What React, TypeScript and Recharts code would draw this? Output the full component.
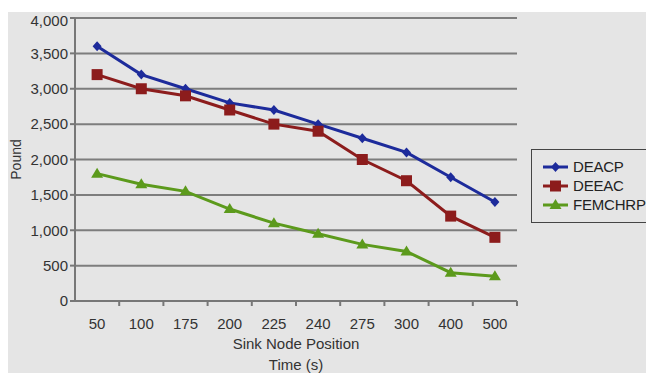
import React from "react";
import {
  CartesianGrid,
  Line,
  LineChart,
  XAxis,
  YAxis,
} from "recharts";

const positions = ["50", "100", "175", "200", "225", "240", "275", "300", "400", "500"];
const deacp = [3600, 3200, 3000, 2800, 2700, 2500, 2300, 2100, 1750, 1400];
const deeac = [3200, 3000, 2900, 2700, 2500, 2400, 2000, 1700, 1200, 900];
const femchrp = [1800, 1650, 1550, 1300, 1100, 950, 800, 700, 400, 350];
const yTicks = [0, 500, 1000, 1500, 2000, 2500, 3000, 3500, 4000];

const data = positions.map((p, i) => ({
  pos: p,
  DEACP: deacp[i],
  DEEAC: deeac[i],
  FEMCHRP: femchrp[i],
}));

const W = 646;
const H = 361;
const margin = { top: 6, right: 137, bottom: 0, left: 0 };
const yAxisW = 67;
const plotW = W - margin.left - margin.right - yAxisW;
const half = plotW / positions.length / 2;

const BLUE = "#1d2b9b";
const RED = "#8c1c1c";
const GREEN = "#5c9a1c";

function Marker(props: { shape: string; cx: number; cy: number; color: string }) {
  const { shape, cx, cy, color } = props;
  if (shape === "diamond") {
    return (
      <polygon
        points={`${cx},${cy - 5} ${cx + 4.5},${cy} ${cx},${cy + 5} ${cx - 4.5},${cy}`}
        fill={color}
      />
    );
  }
  if (shape === "square") {
    return <rect x={cx - 5.5} y={cy - 5.5} width={11} height={11} fill={color} />;
  }
  return (
    <polygon
      points={`${cx},${cy - 6} ${cx + 6},${cy + 4} ${cx - 6},${cy + 4}`}
      fill={color}
    />
  );
}

const dotFor = (shape: string, color: string) => (p: any) =>
  p.cx == null ? <g key={p.index} /> : (
    <Marker key={p.index} shape={shape} cx={p.cx} cy={p.cy} color={color} />
  );

const XTick = (props: any) => {
  const { x, y, payload } = props;
  return (
    <g>
      <line x1={x + half} x2={x + half} y1={y - 8} y2={y - 3} stroke="#777" strokeWidth={2} />
      <text x={x} y={y + 20} textAnchor="middle" fontSize={15} fill="#333">
        {payload.value}
      </text>
    </g>
  );
};

const series = [
  { name: "DEACP", color: BLUE, shape: "diamond" },
  { name: "DEEAC", color: RED, shape: "square" },
  { name: "FEMCHRP", color: GREEN, shape: "triangle" },
];

const LegendBox = () => (
  <div
    style={{
      position: "absolute",
      left: 523,
      top: 137,
      border: "1px solid #444",
      width: 123,
      height: 74,
      boxSizing: "border-box",
      padding: "7px 0 0 10px",
      fontFamily: "Liberation Sans, Arial, sans-serif",
      fontSize: 15,
      color: "#222",
      whiteSpace: "nowrap",
    }}
  >
    {series.map((s) => (
      <div key={s.name} style={{ display: "flex", alignItems: "center", height: 19 }}>
        <svg width={27} height={12} style={{ marginRight: 4, flexShrink: 0 }}>
          <line x1={1} x2={26} y1={6} y2={6} stroke={s.color} strokeWidth={3} />
          <Marker shape={s.shape} cx={13.5} cy={6} color={s.color} />
        </svg>
        <span style={{ letterSpacing: -0.2 }}>{s.name}</span>
      </div>
    ))}
  </div>
);

export default function App() {
  return (
    <div
      style={{
        position: "relative",
        width: W,
        height: H,
        marginTop: 4,
        background: "#e5e5e5",
        fontFamily: "Liberation Sans, Arial, sans-serif",
      }}
    >
      <LineChart width={W} height={H} data={data} margin={margin}>
        <CartesianGrid vertical={false} stroke="#7d7d7d" strokeWidth={2} />
        <XAxis
          dataKey="pos"
          padding={{ left: half, right: half }}
          stroke="#777"
          strokeWidth={2}
          tickLine={false}
          tick={<XTick />}
          height={72}
          interval={0}
          label={({ viewBox }: any) => {
            const cx = viewBox.x + viewBox.width / 2;
            return (
              <g>
                <text x={cx} y={viewBox.y + 48} textAnchor="middle" fontSize={15} fill="#333">
                  Sink Node Position
                </text>
                <text x={cx} y={viewBox.y + 69} textAnchor="middle" fontSize={15} fill="#333">
                  Time (s)
                </text>
              </g>
            );
          }}
        />
        <YAxis
          domain={[0, 4000]}
          ticks={yTicks}
          width={yAxisW}
          stroke="#777"
          strokeWidth={2}
          tickSize={5}
          tick={{ fontSize: 15, fill: "#333" }}
          tickFormatter={(v: number) => v.toLocaleString("en-US")}
          label={{
            value: "Pound",
            angle: -90,
            position: "insideLeft",
            offset: 8,
            style: { fontSize: 14, fill: "#333", textAnchor: "middle" },
          }}
        />
        {series.map((s) => (
          <Line
            key={s.name}
            dataKey={s.name}
            stroke={s.color}
            strokeWidth={3}
            dot={dotFor(s.shape, s.color)}
            activeDot={false}
            isAnimationActive={false}
          />
        ))}
      </LineChart>
      <LegendBox />
    </div>
  );
}
